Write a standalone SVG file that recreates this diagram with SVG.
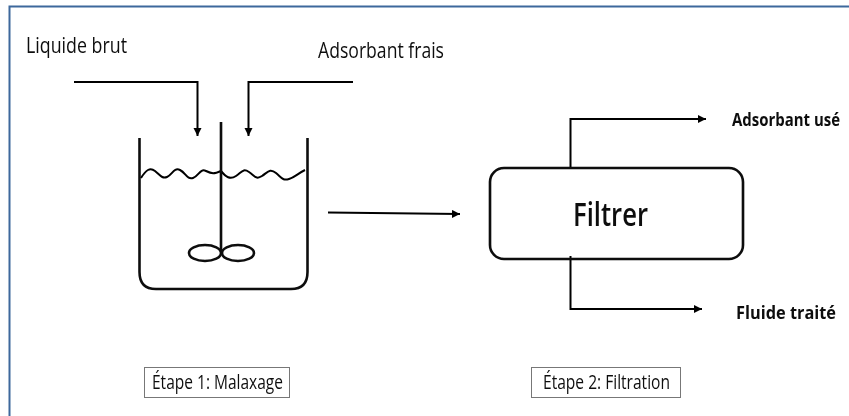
<svg xmlns="http://www.w3.org/2000/svg" width="849" height="416" viewBox="0 0 849 416">
<defs>
<marker id="ah" markerUnits="userSpaceOnUse" markerWidth="10" markerHeight="10" refX="8" refY="4" orient="auto"><path d="M0,0L8,4L0,8Z" fill="#000"/></marker>
<filter id="b" x="-5%" y="-5%" width="110%" height="110%"><feGaussianBlur stdDeviation="0.4"/></filter>
</defs>
<style>
.t{font-family:"Open Sans","Noto Sans","Liberation Sans",sans-serif;fill:#111}
.c{fill:none;stroke:#000;stroke-width:2}
.h{fill:none;stroke:#111;stroke-width:2.600}
.k{fill:#fff;stroke:#777;stroke-width:1}
</style>
<rect width="849" height="416" fill="#fff"/>
<path d="M9.500,420V6.500H853" fill="none" stroke="#3d689c" stroke-width="2"/>
<g filter="url(#b)">
<g id="connectors">
<path class="c" d="M74,82H197.500V136" marker-end="url(#ah)"/>
<path class="c" d="M353,82H248.500V136" marker-end="url(#ah)"/>
<path class="c" d="M328,212.500L460,214" marker-end="url(#ah)"/>
<path class="c" d="M570.500,168V119H706" marker-end="url(#ah)"/>
<path class="c" d="M570.500,256V309H702" marker-end="url(#ah)"/>
</g>
<g id="cuve">
<path class="h" d="M139.500,138V272Q139.500,289 156,289H291Q307.500,289 307.500,272V138"/>
<path class="c" d="M141,178C146,170 150,167 155,171S162,179 167,177S174,167 180,170S187,180 193,178S200,168 206,171S214,174 221,171C226,177 230,180 236,176S243,168 249,172S256,180 262,176S270,168 276,173S283,181 289,179S297,174 305,170"/>
<path class="h" d="M221,122V252"/>
<ellipse class="h" cx="205" cy="253" rx="16" ry="8"/>
<ellipse class="h" cx="238" cy="253" rx="16" ry="8"/>
<text class="t" x="26" y="53" font-size="21" textLength="101" lengthAdjust="spacingAndGlyphs">Liquide brut</text>
<text class="t" x="318" y="58" font-size="21" textLength="126" lengthAdjust="spacingAndGlyphs">Adsorbant frais</text>
</g>
<g id="filtre">
<rect class="h" x="490" y="168" width="253" height="91" rx="14"/>
<text class="t" x="573" y="226" font-size="33" font-weight="600" textLength="75" lengthAdjust="spacingAndGlyphs">Filtrer</text>
</g>
<g id="sortie-adsorbant"><text class="t" x="732" y="126" font-size="18" font-weight="700" textLength="108" lengthAdjust="spacingAndGlyphs">Adsorbant usé</text></g>
<g id="sortie-fluide"><text class="t" x="736" y="319" font-size="18" font-weight="700" textLength="100" lengthAdjust="spacingAndGlyphs">Fluide traité</text></g>
<g id="etape-1"><rect class="k" x="144.500" y="367.500" width="145" height="30"/><text class="t" x="152" y="389" font-size="20" textLength="131" lengthAdjust="spacingAndGlyphs">Étape 1: Malaxage</text></g>
<g id="etape-2"><rect class="k" x="531.500" y="367.500" width="149" height="30"/><text class="t" x="543" y="389" font-size="20" textLength="127" lengthAdjust="spacingAndGlyphs">Étape 2: Filtration</text></g>
</g>
</svg>
